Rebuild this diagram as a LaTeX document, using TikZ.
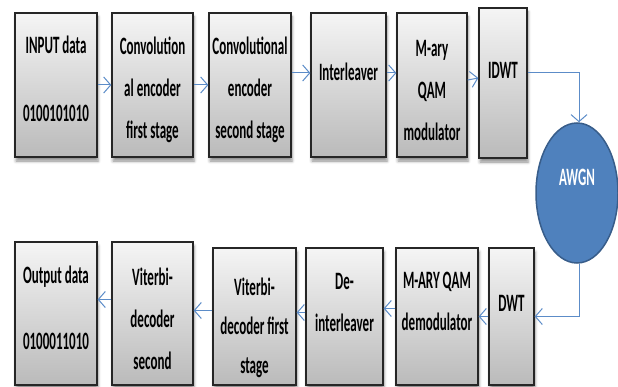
\documentclass[tikz,border=0pt]{standalone}
\usepackage{fontspec}
\newfontfamily\blockfont{Carlito}[FakeStretch=0.52]
\usetikzlibrary{shapes.geometric, arrows.meta, shadows.blur}
\definecolor{flow}{RGB}{92, 140, 200}
\definecolor{noise}{RGB}{79, 129, 189}
\definecolor{noiseedge}{RGB}{56, 93, 138}
\tikzset{
    block/.style={rectangle, draw=black!85, line width=1.3pt, top color=black!4, bottom color=black!27, align=center, text=black, font=\blockfont\bfseries\fontsize{25}{42}\selectfont, inner sep=0pt, blur shadow={shadow opacity=45, shadow xshift=1pt, shadow yshift=-4pt, shadow blur radius=3pt}},
    channel/.style={ellipse, draw=noiseedge, line width=1.5pt, fill=noise, text=white, font=\blockfont\bfseries\fontsize{25}{30}\selectfont, inner sep=0pt, minimum width=82pt, minimum height=140pt},
    arr/.style={-{Straight Barb[length=7pt, width=16pt, line width=1pt]}, line width=1pt, flow}
}
\begin{document}
\begin{tikzpicture}[x=1pt, y=-1pt]
        \useasboundingbox (0,0) rectangle (618,387);
        % transmitter chain
        \node[block, minimum width=82pt, minimum height=144pt, text depth=12pt] (inp) at (56,85) {INPUT data\\[26pt]0100101010};
        \node[block, minimum width=81pt, minimum height=144pt, text height=107pt, text depth=0pt] (enc1) at (152.5,85) {Convolution\\al encoder\\first stage};
        \node[block, minimum width=82pt, minimum height=144pt, text height=107pt, text depth=0pt] (enc2) at (250,85) {Convolutional\\encoder\\second stage};
        \node[block, minimum width=75pt, minimum height=144pt, text depth=26pt] (intl) at (348.5,85) {Interleaver};
        \node[block, minimum width=70pt, minimum height=144pt, text height=112pt, text depth=0pt] (qam) at (432,85) {M-ary\\QAM\\modulator};
        \node[block, minimum width=48pt, minimum height=150pt, text depth=26pt] (idwt) at (503,83) {IDWT};
        % channel
        \node[channel, text depth=32pt] (awgn) at (577,193) {AWGN};
        % receiver chain
        \node[block, minimum width=45pt, minimum height=137pt, text depth=26pt] (dwt) at (511.5,316.5) {DWT};
        \node[block, minimum width=82pt, minimum height=137pt, text depth=30pt] (demod) at (437,316.5) {M-ARY QAM\\demodulator};
        \node[block, minimum width=77pt, minimum height=137pt, text depth=28pt] (deint) at (344.5,316.5) {De-\\interleaver};
        \node[block, minimum width=83pt, minimum height=137pt, text height=113pt, text depth=0pt, font=\blockfont\bfseries\fontsize{25}{39}\selectfont] (vit1) at (254.5,316.5) {Viterbi-\\decoder first\\stage};
        \node[block, minimum width=81pt, minimum height=143pt, text height=112pt, text depth=0pt] (vit2) at (152.5,313.5) {Viterbi-\\decoder\\second};
        \node[block, minimum width=82pt, minimum height=143pt, text depth=12pt] (out) at (56,313.5) {Output data\\[24pt]0100011010};
        % connectors
        \draw[arr] (inp) -- (enc1); \draw[arr] (enc1) -- (enc2);
        \draw[arr] ([yshift=12pt]enc2.east) -- ([yshift=12pt]intl.west);
        \draw[arr] ([yshift=12pt]intl.east) -- ([yshift=12pt]qam.west);
        \draw[arr] ([yshift=5pt]qam.east) -- ([yshift=5pt]idwt.west);
        \draw[arr] ([yshift=10pt]idwt.east) -| ([xshift=2pt]awgn.north);
        \draw[arr] ([xshift=2pt]awgn.south) |- (dwt.east);
        \draw[arr] (dwt) -- (demod);
        \draw[arr] ([yshift=8pt]demod.west) -- ([yshift=8pt]deint.east);
        \draw[arr] ([yshift=4pt]deint.west) -- ([yshift=4pt]vit1.east);
        \draw[arr] ([yshift=6pt]vit1.west) -- ([yshift=3pt]vit2.east);
        \draw[arr] ([yshift=14pt]vit2.west) -- ([yshift=14pt]out.east);
    \end{tikzpicture}
\end{document}
